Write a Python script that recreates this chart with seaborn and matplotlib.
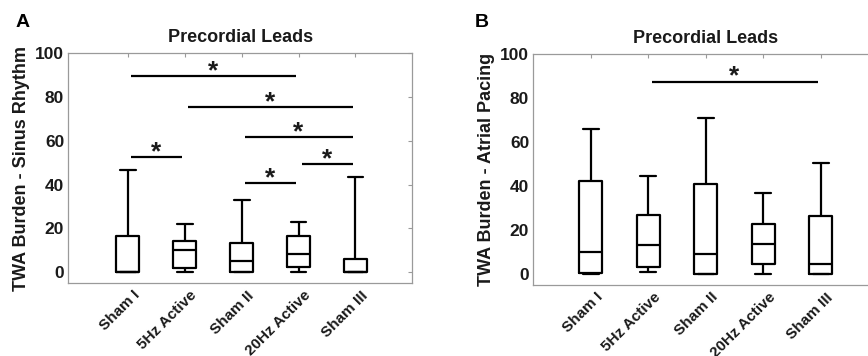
import numpy as np
import pandas as pd
import matplotlib
matplotlib.use("Agg")
import matplotlib.pyplot as plt
import matplotlib.transforms as mtransforms
import seaborn as sns

# five-number summaries (min, q1, median, q3, max)
groups = ['Sham I', '5Hz Active', 'Sham II', '20Hz Active', 'Sham III']

sr_min = [0.0, 0.0, 0.0, 0.0, 0.0]
sr_q1 = [0.0, 1.8, 0.0, 2.3, 0.0]
sr_med = [0.0, 9.9, 4.9, 8.4, 0.0]
sr_q3 = [16.6, 14.2, 13.5, 16.6, 6.1]
sr_max = [46.7, 22.1, 32.9, 22.7, 43.5]

ap_min = [0.0, 0.8, 0.0, 0.0, 0.0]
ap_q1 = [0.4, 3.2, 0.0, 4.5, 0.0]
ap_med = [10.0, 13.2, 9.2, 13.6, 4.7]
ap_q3 = [42.3, 26.7, 40.8, 22.7, 26.2]
ap_max = [66.2, 44.4, 70.9, 36.8, 50.5]

# significance brackets (group index from / to, height)
sr_sig_from = [0, 1, 2, 0, 2, 3]
sr_sig_to = [3, 4, 4, 1, 3, 4]
sr_sig_y = [89.6, 75.6, 61.8, 52.4, 40.8, 49.3]

ap_sig_from = [1]
ap_sig_to = [4]
ap_sig_y = [87.6]


def summary_frame(mins, q1s, meds, q3s, maxs):
    # five values per group reproduce the quartiles exactly with linear percentiles
    rows = []
    for g, a, b, c, d, e in zip(groups, mins, q1s, meds, q3s, maxs):
        for v in (a, b, c, d, e):
            rows.append({'group': g, 'value': v})
    return pd.DataFrame(rows)


sns.set_style('white')
plt.rcParams['font.family'] = ['Liberation Sans', 'DejaVu Sans']
plt.rcParams['font.weight'] = 'bold'

spine_col = '#9a9a9a'
text_col = '#1a1a1a'

fig = plt.figure(figsize=(8.68, 3.56), dpi=100)
ax_a = fig.add_axes([0.0787, 0.205, 0.3965, 0.645])
ax_b = fig.add_axes([0.6144, 0.1994, 0.3975, 0.648])


def draw_panel(ax, df, ylabel, sig_from, sig_to, sig_y, xlim):
    sns.boxplot(data=df, x='group', y='value', order=groups, whis=(0, 100),
                width=0.4, fill=False, color='black', linewidth=1.6,
                showfliers=False, ax=ax)
    # widen the whisker caps a little (MATLAB-style)
    for ln in list(ax.lines):
        xd = np.asarray(ln.get_xdata(), dtype=float)
        yd = np.asarray(ln.get_ydata(), dtype=float)
        if len(xd) == 2 and yd[0] == yd[1]:
            w = abs(xd[1] - xd[0])
            if 0.02 < w < 0.35:
                xc = xd.mean()
                ln.set_xdata([xc - 0.14, xc + 0.14])
    for f, t, y in zip(sig_from, sig_to, sig_y):
        ax.plot([f + 0.06, t - 0.05], [y, y], color='black', lw=1.6,
                solid_capstyle='butt')
        ax.text((f + t) / 2, y - 1.0, '*', ha='center', va='baseline',
                fontsize=19, fontweight='bold', color=text_col)
    ax.set_xlim(*xlim)
    ax.set_ylim(-5, 100)
    ax.set_yticks([0, 20, 40, 60, 80, 100])
    ax.set_xlabel('')
    ax.set_ylabel(ylabel, fontsize=13, fontweight='bold', color=text_col,
                  labelpad=4)
    ax.set_title('Precordial Leads', fontsize=13, fontweight='bold',
                 color=text_col, pad=8)
    ax.tick_params(direction='in', length=3, width=0.8, color=spine_col,
                   top=True, right=True, pad=3)
    ax.tick_params(axis='y', labelsize=12.5, labelcolor=text_col)
    ax.tick_params(axis='x', labelsize=11, labelcolor=text_col, labelrotation=45)
    offset = mtransforms.ScaledTranslation(5 / 100, -1 / 100, fig.dpi_scale_trans)
    for lab in ax.get_xticklabels():
        lab.set_ha('right')
        lab.set_va('top')
        lab.set_rotation_mode('anchor')
        lab.set_fontweight('bold')
        lab.set_transform(lab.get_transform() + offset)
    for lab in ax.get_yticklabels():
        lab.set_fontweight('bold')
    for sp in ax.spines.values():
        sp.set_visible(True)
        sp.set_color(spine_col)
        sp.set_linewidth(0.9)


draw_panel(ax_a, summary_frame(sr_min, sr_q1, sr_med, sr_q3, sr_max),
           'TWA Burden - Sinus Rhythm', sr_sig_from, sr_sig_to, sr_sig_y,
           (-1.04, 5.0))
draw_panel(ax_b, summary_frame(ap_min, ap_q1, ap_med, ap_q3, ap_max),
           'TWA Burden - Atrial Pacing', ap_sig_from, ap_sig_to, ap_sig_y,
           (-1.0, 5.0))

fig.text(0.018, 0.924, 'A', fontsize=14, fontweight='bold', color='black')
fig.text(0.547, 0.924, 'B', fontsize=14, fontweight='bold', color='black')

fig.savefig('out.png', dpi=100, facecolor='white')
